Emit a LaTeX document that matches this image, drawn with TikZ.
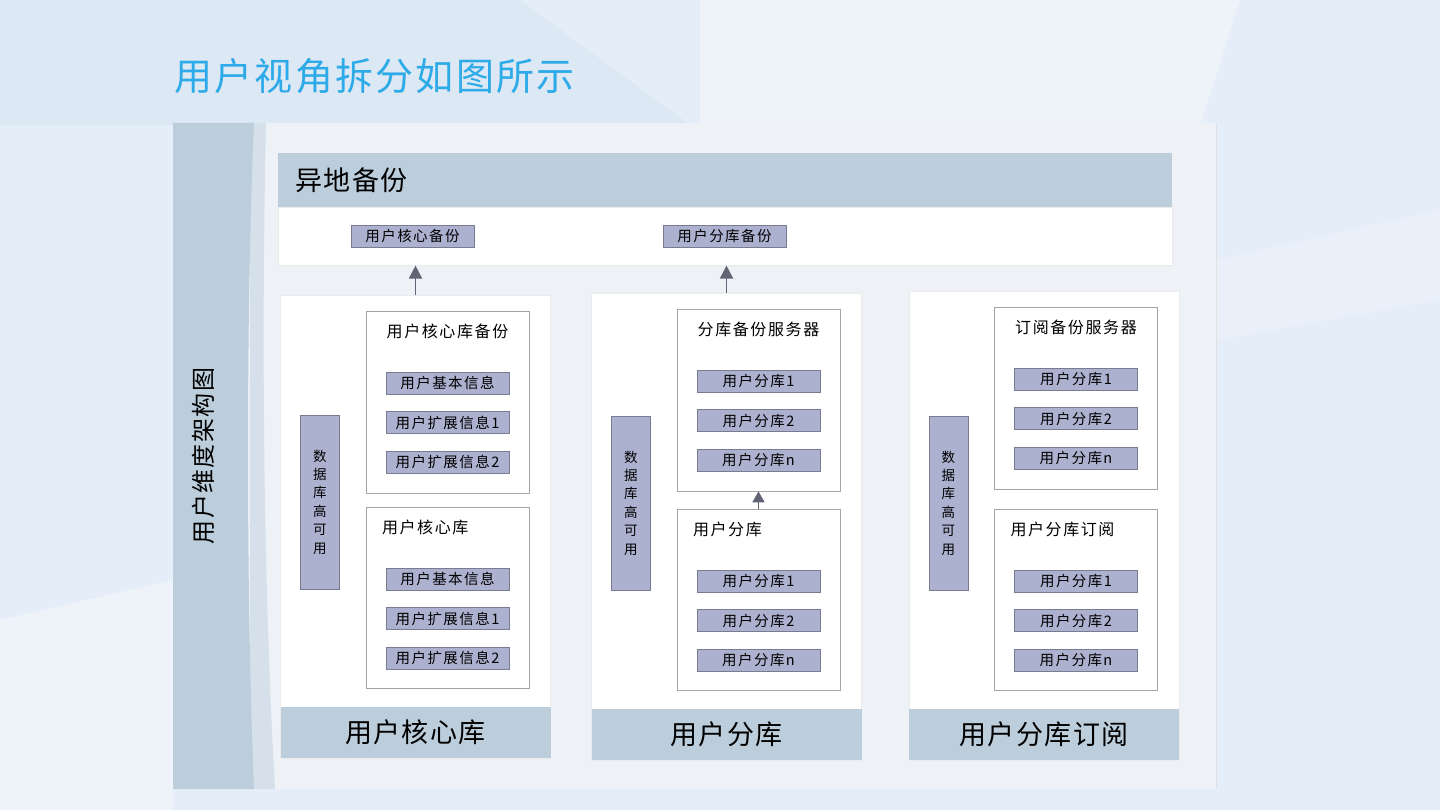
\documentclass[tikz,border=0pt]{standalone}
\usepackage{fontspec}
\setmainfont{Noto Sans CJK SC}
\newfontfamily\widecn[LetterSpace=10]{Noto Sans CJK SC}
\usetikzlibrary{arrows.meta,positioning,calc}

\definecolor{bgblue}{RGB}{229,238,248}
\definecolor{bglight}{RGB}{238,243,250}
\definecolor{bgdark}{RGB}{221,232,245}
\definecolor{panelgrey}{RGB}{238,242,246}
\definecolor{sidebar}{RGB}{188,206,220}
\definecolor{sidestrip}{RGB}{214,224,234}
\definecolor{headfill}{RGB}{188,205,220}
\definecolor{itemfill}{RGB}{171,177,207}
\definecolor{itemline}{RGB}{120,124,145}
\definecolor{boxline}{RGB}{165,165,165}
\definecolor{titleblue}{RGB}{45,170,232}
\definecolor{arrowgrey}{RGB}{98,100,118}

\tikzset{
  item/.style={draw=itemline,fill=itemfill,minimum width=123,minimum height=22,inner sep=0,
    font=\widecn\fontsize{14.5}{15}\selectfont},
  innerbox/.style={draw=boxline,fill=white,minimum width=163,minimum height=182,inner sep=0},
  colbox/.style={draw=black!8,fill=white,minimum width=270,inner sep=0},
  band/.style={fill=headfill,minimum width=270,minimum height=51,inner sep=0,
    font=\fontsize{27}{28}\selectfont\addfontfeatures{LetterSpace=5}},
  hastack/.style={draw=itemline,fill=itemfill,minimum width=39,minimum height=174,inner sep=0,
    align=center,font=\fontsize{13.5}{18.4}\selectfont},
  boxtitle/.style={inner sep=0,font=\widecn\fontsize{16}{17}\selectfont},
  arr/.style={-{Triangle[width=13,length=13]},line width=1.8,draw=arrowgrey}
}

\begin{document}
\begin{tikzpicture}[x=1pt,y=-1pt]
\useasboundingbox (0,0) rectangle (1440,810);
\fill[bgblue] (0,0) rectangle (1440,810);
\fill[bgdark] (0,0) -- (520,0) -- (690,125) -- (0,125) -- cycle;
\fill[bglight] (700,0) -- (1240,0) -- (1200,125) -- (700,125) -- cycle;
\fill[bglight] (0,620) -- (173,580) -- (173,810) -- (0,810) -- cycle;
\fill[bglight!50!bgblue] (1216,260) -- (1440,210) -- (1440,300) -- (1216,340) -- cycle;

\node[anchor=west,text=titleblue,inner sep=0,font=\fontsize{38}{40}\selectfont\addfontfeatures{LetterSpace=6}]
  (title) at (174,76) {用户视角拆分如图所示};

% panel and sidebar
\fill[panelgrey] (173,123) rectangle (1216,789);
\draw[black!12] (1216,123) -- (1216,789);
\fill[sidestrip] (250,123) -- (266,123) .. controls (262,300) and (262,560) .. (275,789) -- (250,789) -- cycle;
\fill[sidebar] (173,123) -- (254,123) .. controls (246,300) and (246,600) .. (254,789) -- (173,789) -- cycle;
\node[rotate=90,inner sep=0,font=\fontsize{24}{25}\selectfont\addfontfeatures{LetterSpace=6}] (side) at (203,456) {用户维度架构图};

% offsite backup
\node[fill=headfill,minimum width=894,minimum height=54,inner xsep=17,inner ysep=0,text width=860,align=left,
  font=\fontsize{27}{28}\selectfont\addfontfeatures{LetterSpace=6}] (offhead) at (725,180) {异地备份};
\node[draw=black!8,fill=white,minimum width=894,minimum height=58,inner sep=0,anchor=north] (offbody) at (offhead.south) {};
\node[item] (corebk) at (412.5,236) {用户核心备份};
\node[item] (shardbk) at (724.5,236) {用户分库备份};

% three columns
\foreach \i/\cx/\top/\h/\low/\hy/\upt/\lowt/\band/\a/\b/\c in {
  1/415.5/295/463/212/207/用户核心库备份/用户核心库/用户核心库/用户基本信息/用户扩展信息1/用户扩展信息2,
  2/726.5/293/467/216/210/分库备份服务器/用户分库/用户分库/用户分库1/用户分库2/用户分库n,
  3/1044/291/469/218/212/订阅备份服务器/用户分库订阅/用户分库订阅/用户分库1/用户分库2/用户分库n} {
  \node[colbox,minimum height=\h,anchor=north] (col\i) at (\cx,\top) {};
  \node[band,anchor=south] (band\i) at (col\i.south) {\band};
  \node[hastack] (ha\i) at ($(col\i.north west)+(39.5,\hy)$) {数\\据\\库\\高\\可\\用};
  \node[innerbox,anchor=north] (up\i) at ($(col\i.north)+(32,16)$) {};
  \node[boxtitle] (upt\i) at ($(up\i.north)+(0,20)$) {\upt};
  \node[innerbox,anchor=north,minimum height=181] (lo\i) at ($(col\i.north)+(32,\low)$) {};
  \node[boxtitle,anchor=west] (lot\i) at ($(lo\i.north west)+(16,20)$) {\lowt};
  \foreach \t [count=\k] in {\a,\b,\c} {
    \node[item] (ui\i-\k) at ($(up\i.north)+(0,32.5+39.5*\k)$) {\t};
    \node[item] (li\i-\k) at ($(lo\i.north)+(0,32.5+39.5*\k)$) {\t};
  }
}

\draw[arr] (col1.north) -- (col1.north |- offbody.south);
\draw[arr] (col2.north) -- (col2.north |- offbody.south);
\draw[arr,-{Triangle[width=12,length=11]}] (lo2.north) -- (up2.south);
\end{tikzpicture}
\end{document}
